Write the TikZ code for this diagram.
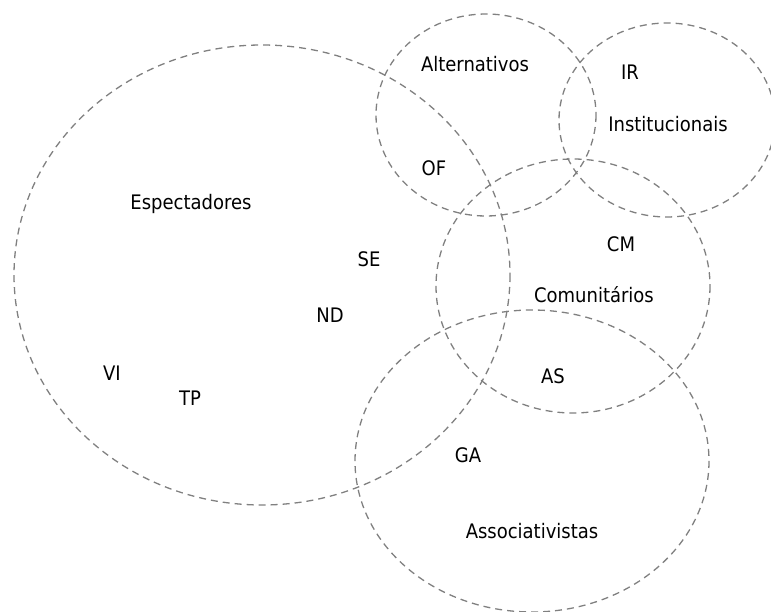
\documentclass[tikz,border=0pt]{standalone}
\usepackage{fontspec}
\setmainfont{DejaVu Sans Condensed}
\begin{document}
\begin{tikzpicture}[x=1pt,y=-1pt,
  set/.style={draw={rgb,255:red,128;green,128;blue,128},line width=1.3pt,dash pattern=on 7pt off 5pt},
  lbl/.style={anchor=base,inner sep=0pt,font=\fontsize{20}{24}\selectfont}]
\useasboundingbox (0,0) rectangle (771,612);
\draw[set] (262,275) ellipse [x radius=248,y radius=230];
\draw[set] (486,115) ellipse [x radius=110,y radius=101];
\draw[set] (667,120) ellipse [x radius=108,y radius=97];
\draw[set] (573,286) ellipse [x radius=137,y radius=127];
\draw[set] (532,461) ellipse [x radius=177,y radius=151];
\node[lbl] (alt) at (475,71.7) {Alternativos};
\node[lbl] (ir) at (630,80) {IR};
\node[lbl] (inst) at (668,131.7) {Institucionais};
\node[lbl] (of) at (434,176) {OF};
\node[lbl] (esp) at (191,210) {Espectadores};
\node[lbl] (se) at (369,267) {SE};
\node[lbl] (nd) at (330,323) {ND};
\node[lbl] (cm) at (621,252) {CM};
\node[lbl] (com) at (594,303) {Comunitários};
\node[lbl] (vi) at (112,380) {VI};
\node[lbl] (tp) at (190,405) {TP};
\node[lbl] (as) at (553,383) {AS};
\node[lbl] (ga) at (468,462) {GA};
\node[lbl] (ass) at (532,538) {Associativistas};
\end{tikzpicture}
\end{document}
